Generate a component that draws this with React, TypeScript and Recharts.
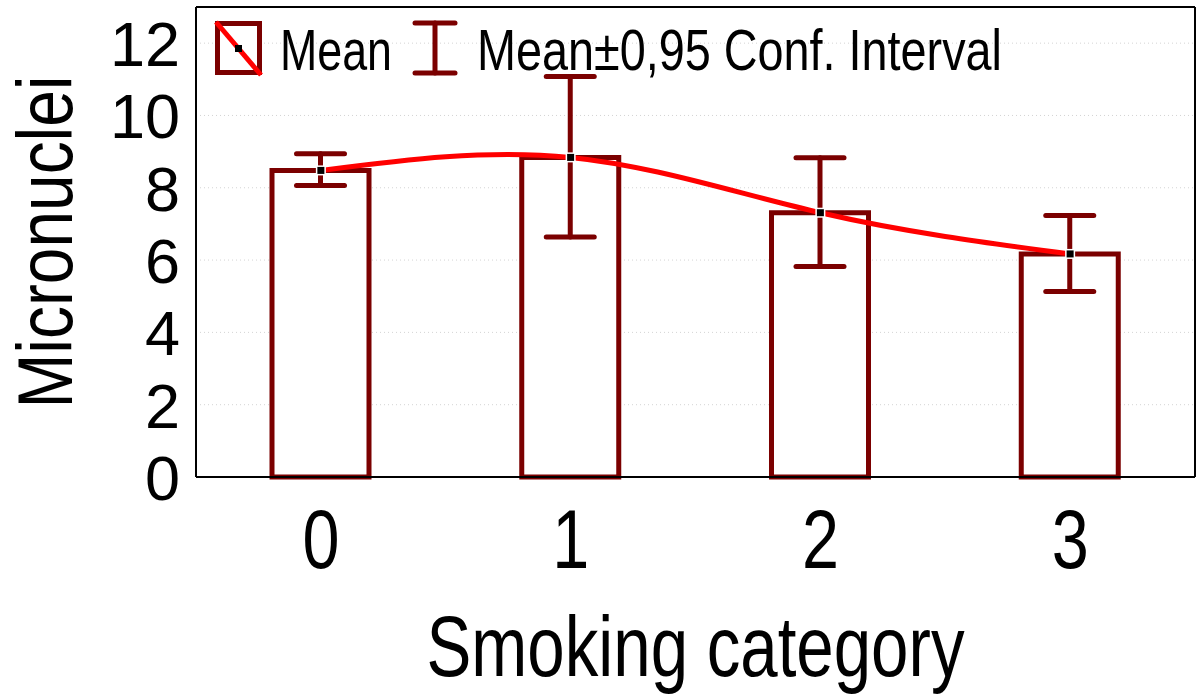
import React from 'react'
import {
    ComposedChart,
    Bar,
    Line,
    ErrorBar,
    XAxis,
    YAxis,
    CartesianGrid,
} from 'recharts'

// values
const categories = ['0', '1', '2', '3']
const means = [8.48, 8.84, 7.31, 6.17]
const ciLow = [8.06, 6.64, 5.82, 5.13]
const ciHigh = [8.94, 11.08, 8.83, 7.23]
const yTicks = [0, 2, 4, 6, 8, 10, 12]

const DARK_RED = '#7b0000'
const CURVE_RED = '#ff0000'
const FONT = '"Liberation Sans", Arial, sans-serif'

const data = categories.map((cat, i) => ({
    cat,
    mean: means[i],
    err: [means[i] - ciLow[i], ciHigh[i] - means[i]],
}))

function XTick({ x, y, payload }: any) {
    return (
        <text
            x={x}
            y={y + 91}
            textAnchor="middle"
            fontFamily={FONT}
            fontSize={84}
            textLength={37}
            lengthAdjust="spacingAndGlyphs"
            fill="#000"
        >
            {payload.value}
        </text>
    )
}

function YTick({ x, y, payload }: any) {
    return (
        <text
            x={x - 16}
            y={y + 23}
            textAnchor="end"
            fontFamily={FONT}
            fontSize={63}
            fill="#000"
        >
            {payload.value}
        </text>
    )
}

function YTitle({ viewBox }: any) {
    const cy = viewBox.y + viewBox.height / 2
    return (
        <text
            x={72}
            y={cy}
            transform={`rotate(-90, 72, ${cy})`}
            textAnchor="middle"
            fontFamily={FONT}
            fontSize={78}
            textLength={333}
            lengthAdjust="spacingAndGlyphs"
            fill="#000"
        >
            Micronuclei
        </text>
    )
}

function XTitle({ viewBox }: any) {
    const cx = viewBox.x + viewBox.width / 2
    return (
        <text
            x={cx}
            y={676}
            textAnchor="middle"
            fontFamily={FONT}
            fontSize={85}
            textLength={538}
            lengthAdjust="spacingAndGlyphs"
            fill="#000"
        >
            Smoking category
        </text>
    )
}

function MeanDot({ cx, cy }: any) {
    if (cx == null || cy == null) return null
    return (
        <g>
            <rect x={cx - 5} y={cy - 5} width={10} height={10} fill="#fff" />
            <rect x={cx - 3.5} y={cy - 3.5} width={7} height={7} fill="#000" />
        </g>
    )
}

// legend drawn as an overlay so it does not shrink the plot area
function LegendBox() {
    return (
        <svg width={1200} height={90} style={{ position: 'absolute', left: 0, top: 0, pointerEvents: 'none' }}>
            <rect x={217.5} y={23.5} width={42} height={49} fill="#fff" stroke={DARK_RED} strokeWidth={5} />
            <line x1={216} y1={22} x2={261} y2={75} stroke={CURVE_RED} strokeWidth={5} />
            <rect x={235} y={45} width={7} height={7} fill="#000" />
            <text x={280} y={70} fontFamily={FONT} fontSize={58} textLength={112} lengthAdjust="spacingAndGlyphs" fill="#000">
                Mean
            </text>
            <g stroke={DARK_RED} strokeWidth={5} strokeLinecap="round">
                <line x1={435} y1={23} x2={435} y2={73} />
                <line x1={415} y1={23} x2={455} y2={23} />
                <line x1={415} y1={73} x2={455} y2={73} />
            </g>
            <text x={477} y={70} fontFamily={FONT} fontSize={58} textLength={525} lengthAdjust="spacingAndGlyphs" fill="#000">
                Mean±0,95 Conf. Interval
            </text>
        </svg>
    )
}

export default function App() {
    return (
        <div style={{ position: 'absolute', left: 0, top: 0, width: 1200, height: 700, background: '#fff' }}>
            <ComposedChart
                width={1200}
                height={700}
                data={data}
                margin={{ top: 7, right: 5, left: 0, bottom: 0 }}
            >
                <CartesianGrid vertical={false} stroke="#d4d4d4" strokeDasharray="1 3" />

                <XAxis
                    dataKey="cat"
                    height={223}
                    axisLine={{ stroke: '#000', strokeWidth: 2 }}
                    tickLine={false}
                    tickSize={0}
                    tickMargin={0}
                    tick={<XTick />}
                    label={<XTitle />}
                />
                <YAxis
                    width={196}
                    domain={[0, 13]}
                    ticks={yTicks}
                    axisLine={{ stroke: '#000', strokeWidth: 2 }}
                    tickLine={false}
                    tickSize={0}
                    tickMargin={0}
                    tick={<YTick />}
                    label={<YTitle />}
                />

                {/* frame and inward tick marks */}
                <XAxis xAxisId="bottomTicks" dataKey="cat" mirror axisLine={false} tick={false} tickSize={7} tickLine={{ stroke: '#000', strokeWidth: 2 }} />
                <XAxis xAxisId="top" dataKey="cat" orientation="top" mirror axisLine={{ stroke: '#000', strokeWidth: 2 }} tick={false} tickSize={7} tickLine={{ stroke: '#000', strokeWidth: 2 }} />
                <YAxis yAxisId="leftTicks" domain={[0, 13]} ticks={yTicks} mirror axisLine={false} tick={false} tickSize={7} tickLine={{ stroke: '#000', strokeWidth: 2 }} />
                <YAxis yAxisId="right" orientation="right" domain={[0, 13]} ticks={yTicks} mirror axisLine={{ stroke: '#000', strokeWidth: 2 }} tick={false} tickSize={7} tickLine={{ stroke: '#000', strokeWidth: 2 }} />

                <Bar
                    dataKey="mean"
                    barSize={97}
                    fill="#fff"
                    stroke={DARK_RED}
                    strokeWidth={5}
                    isAnimationActive={false}
                >
                    <ErrorBar
                        dataKey="err"
                        width={24}
                        stroke={DARK_RED}
                        strokeWidth={5}
                        strokeLinecap="round"
                        isAnimationActive={false}
                    />
                </Bar>
                <Line
                    type="natural"
                    dataKey="mean"
                    stroke={CURVE_RED}
                    strokeWidth={5}
                    dot={<MeanDot />}
                    activeDot={false}
                    isAnimationActive={false}
                />
            </ComposedChart>
            <LegendBox />
        </div>
    )
}
